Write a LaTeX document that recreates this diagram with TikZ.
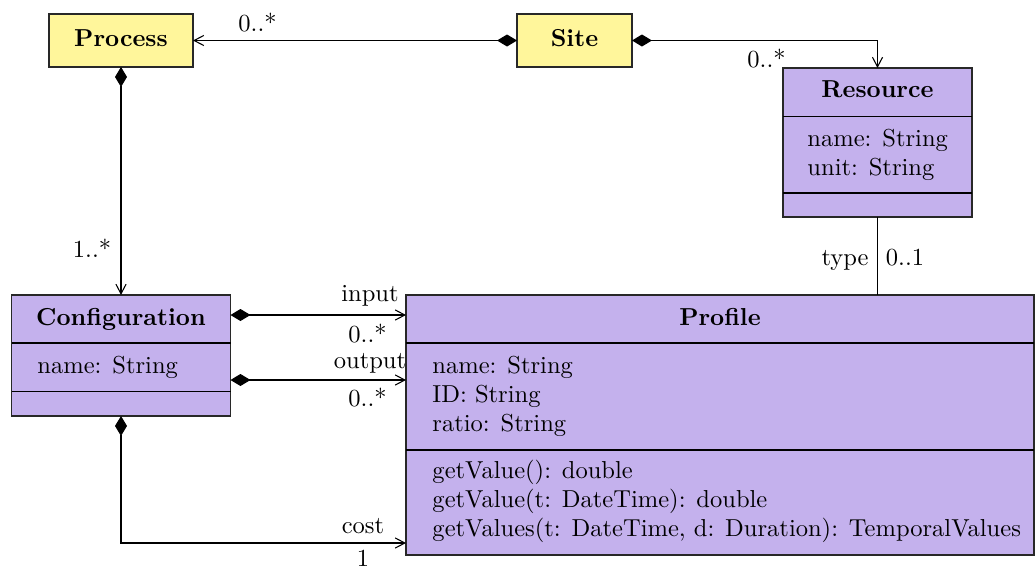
\documentclass[tikz,border=0pt]{standalone}
\usetikzlibrary{arrows.meta,calc}
\definecolor{clsyellow}{RGB}{255,246,155}
\definecolor{clspurple}{RGB}{196,177,237}
\definecolor{clsborder}{RGB}{40,40,40}
\newcommand{\diagfs}{\fontsize{10.22}{12.3}\selectfont}
\begin{document}
\begin{tikzpicture}[x=0.41667pt,y=-0.41667pt,font=\diagfs,
  cls/.style={draw=clsborder,line width=0.5pt,inner sep=0pt,outer sep=0pt},
  yel/.style={cls,fill=clsyellow},
  pur/.style={cls,fill=clspurple},
  hdr/.style={anchor=base,font=\diagfs\bfseries,inner sep=0pt},
  attr/.style={anchor=base west,inner sep=0pt},
  lbl/.style={anchor=base,inner sep=0pt},
  divider/.style={draw=black,line width=0.5pt},
  comp/.style={draw=black,line width=0.45pt,{Diamond[length=8.3pt,width=5pt]}-{Straight Barb[length=4pt,width=4.2pt]}},
  plain/.style={draw=black,line width=0.45pt}]
\useasboundingbox (0,0) rectangle (1035,567);

% classes
\node[yel,minimum width=60pt,minimum height=22.08pt] (process) at (121,40.5) {};
\node[yel,minimum width=47.92pt,minimum height=22.08pt] (site) at (574.5,40.5) {};
\node[pur,minimum width=78.75pt,minimum height=62.08pt] (resource) at (877.5,142.5) {};
\node[pur,minimum width=91.25pt,minimum height=50.42pt] (config) at (121,355.5) {};
\node[pur,minimum width=261.67pt,minimum height=108.33pt] (profile) at (720,425) {};

% dividers
\draw[divider] ($(resource.north west)+(0,48.5)$) coordinate (r1) -- (r1 -| resource.east);
\draw[divider] ($(resource.north west)+(0,125)$) coordinate (r2) -- (r2 -| resource.east);
\draw[divider] ($(config.north west)+(0,48)$) coordinate (c1) -- (c1 -| config.east);
\draw[divider] ($(config.north west)+(0,96.5)$) coordinate (c2) -- (c2 -| config.east);
\draw[divider] ($(profile.north west)+(0,48)$) coordinate (p1) -- (p1 -| profile.east);
\draw[divider] ($(profile.north west)+(0,155)$) coordinate (p2) -- (p2 -| profile.east);

% headers
\node[hdr] (processname) at (121,46.7) {Process};
\node[hdr] (sitename) at (574.5,46.7) {Site};
\node[hdr] (resourcename) at (877.5,97) {Resource};
\node[hdr] (configname) at (121,325) {Configuration};
\node[hdr] (profilename) at (720,325) {Profile};

% attributes
\node[attr] (ra1) at (807,146) {name: String};
\node[attr] (ra2) at (807,175) {unit: String};
\node[attr] (ca1) at (37,373) {name: String};
\node[attr] (pa1) at (432,373) {name: String};
\node[attr] (pa2) at (432,402) {ID: String};
\node[attr] (pa3) at (432,431) {ratio: String};
\node[attr] (pm1) at (432,478) {getValue(): double};
\node[attr] (pm2) at (432,507) {getValue(t: DateTime): double};
\node[attr] (pm3) at (432,536) {getValues(t: DateTime, d: Duration): TemporalValues};

% connectors
\draw[comp] (site.west) -- (process.east);
\draw[comp] (site.east) -| (resource.north);
\draw[comp] (process.south) -- (config.north);
\draw[comp] ($(config.north east)+(0,20)$) coordinate (in0) -- (in0 -| profile.west);
\draw[comp] ($(config.north east)+(0,85)$) coordinate (out0) -- (out0 -| profile.west);
\draw[comp] (config.south) |- ($(profile.south west)+(0,-12)$);
\draw[plain] (resource.south) -- (resource.south |- profile.north);

% labels
\node[lbl] (l1) at (257.5,31.5) {0..*};
\node[lbl] (l2) at (766.5,67.5) {0..*};
\node[lbl] (l3) at (92,257) {1..*};
\node[lbl] (l4) at (370,301) {input};
\node[lbl] (l5) at (367.5,342) {0..*};
\node[lbl] (l6) at (370,368) {output};
\node[lbl] (l7) at (367.5,406) {0..*};
\node[lbl] (l8) at (363,533) {cost};
\node[lbl] (l9) at (363,566) {1};
\node[lbl] (l10) at (845,265) {type};
\node[lbl] (l11) at (905,265) {0..1};
\end{tikzpicture}
\end{document}
